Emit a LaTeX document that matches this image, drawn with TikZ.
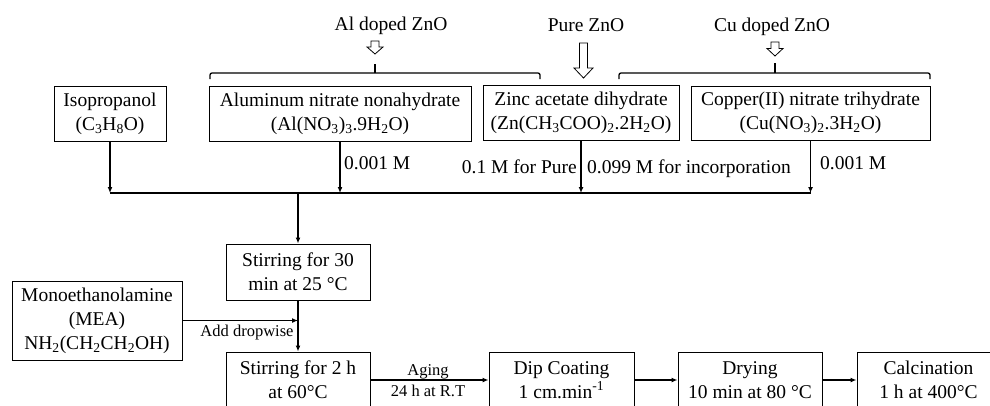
\documentclass[tikz,border=0pt]{standalone}
\usepackage{fontspec}
\setmainfont{Liberation Serif}
\usetikzlibrary{arrows.meta}
\begin{document}
\begin{tikzpicture}[x=1pt,y=-1pt,
  box/.style={draw, line width=1pt, inner sep=0pt, align=center, font=\fontsize{19.5}{24}\selectfont},
  lbl/.style={inner sep=0pt, font=\fontsize{19.5}{24}\selectfont},
  slbl/.style={inner sep=0pt, font=\fontsize{16.5}{20}\selectfont},
  conn/.style={line width=1.4pt},
  arr/.style={conn, -{Latex[length=6pt,width=5pt]}},
  hollow/.style={draw, line width=0.8pt, fill=white, line join=miter},
  brace/.style={line width=1.3pt, rounded corners=2pt}]
\useasboundingbox (0,0) rectangle (990,405);
\clip (0,0) rectangle (990,405);

% reagent boxes
\node[box, minimum width=112pt, minimum height=55pt] (iso) at (110,113.5) {Isopropanol\\(C\textsubscript{3}H\textsubscript{8}O)};
\node[box, minimum width=262pt, minimum height=55pt] (alu) at (340,113.5) {Aluminum nitrate nonahydrate\\(Al(NO\textsubscript{3})\textsubscript{3}.9H\textsubscript{2}O)};
\node[box, minimum width=196pt, minimum height=55pt] (zinc) at (581,112.5) {Zinc acetate dihydrate\\(Zn(CH\textsubscript{3}COO)\textsubscript{2}.2H\textsubscript{2}O)};
\node[box, minimum width=239pt, minimum height=54pt] (cu) at (810.5,113) {Copper(II) nitrate trihydrate\\(Cu(NO\textsubscript{3})\textsubscript{2}.3H\textsubscript{2}O)};

% top titles
\node[lbl, anchor=base] (tal) at (391,30) {Al doped ZnO};
\node[lbl, anchor=base] (tpure) at (586,31) {Pure ZnO};
\node[lbl, anchor=base] (tcu) at (772,31) {Cu doped ZnO};

% hollow arrows
\draw[hollow] (371,41) -- (379,41) -- (379,47) -- (383,47) -- (375,54) -- (367,47) -- (371,47) -- cycle;
\draw[hollow] (579.5,43) -- (587.5,43) -- (587.5,68) -- (593,68) -- (583.5,78) -- (574,68) -- (579.5,68) -- cycle;
\draw[hollow] (771,42) -- (779,42) -- (779,48.5) -- (783,48.5) -- (775,56) -- (767,48.5) -- (771,48.5) -- cycle;

% brackets
\draw[brace] (210,79) -- (210,73) -- (540,73) -- (540,79);
\draw[brace] (375,73) -- (375,64);
\draw[brace] (619,79) -- (619,73) -- (930,73) -- (930,79);
\draw[brace] (775,73) -- (775,63);

% collecting line
\coordinate (bus) at (298,193);
\draw[conn] (iso.south |- bus) -- (cu.south |- bus);
\draw[arr] (iso.south) -- (iso.south |- bus);
\draw[arr] (alu.south) -- (alu.south |- bus);
\draw[arr] (zinc.south) -- (zinc.south |- bus);
\draw[arr] (cu.south) -- (cu.south |- bus);

% concentration labels
\node[lbl, anchor=base west] (m1) at (344,169) {0.001 M};
\node[lbl, anchor=base east] (m2) at (577,173) {0.1 M for Pure};
\node[lbl, anchor=base west] (m3) at (587,173) {0.099 M for incorporation};
\node[lbl, anchor=base west] (m4) at (820,169) {0.001 M};

% process
\node[box, minimum width=144pt, minimum height=56pt] (stir1) at (298,272) {Stirring for 30\\min at 25 °C};
\node[box, minimum width=170pt, minimum height=79pt] (mea) at (97,320.5) {Monoethanolamine\\(MEA)\\NH\textsubscript{2}(CH\textsubscript{2}CH\textsubscript{2}OH)};
\node[box, minimum width=144pt, minimum height=56pt] (stir2) at (298,380) {Stirring for 2 h\\at 60°C};
\node[box, minimum width=145pt, minimum height=56pt] (dip) at (561.5,380) {Dip Coating\\1 cm.min\textsuperscript{-1}};
\node[box, minimum width=144pt, minimum height=56pt] (dry) at (750,380) {Drying\\10 min at 80 °C};
\node[box, minimum width=143pt, minimum height=56pt] (calc) at (928.5,380) {Calcination\\1 h at 400°C};

\draw[arr] (bus) -- (stir1.north);
\draw[arr] (stir1.south) -- (stir2.north);
\draw[arr] (mea.east) -- (mea.east -| stir1.south);
\node[slbl, anchor=base] (add) at (247,336) {Add dropwise};

\draw[arr] (stir2.east) -- (dip.west);
\node[slbl, anchor=base] (aging) at (428,375) {Aging};
\node[slbl, anchor=base] (rt) at (428,396) {24 h at R.T};
\draw[arr] (dip.east) -- (dry.west);
\draw[arr] (dry.east) -- (calc.west);
\end{tikzpicture}
\end{document}
